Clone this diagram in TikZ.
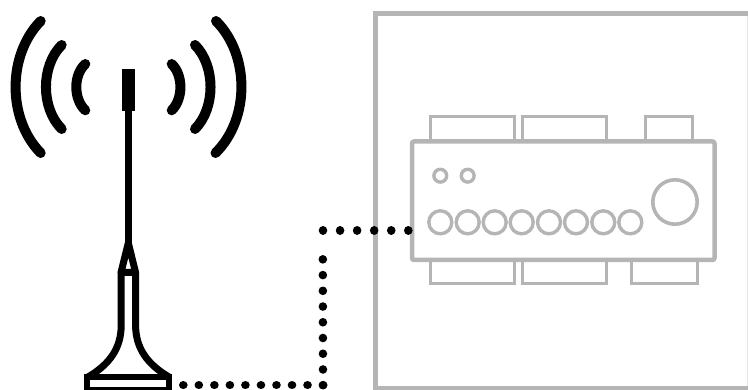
\documentclass[tikz,border=0pt]{standalone}
\tikzset{
  x=1pt,y=-1pt,
  frame/.style={draw=boxgray,line width=5pt},
  chassis/.style={draw=boxgray,line width=4.5pt,rounded corners=2pt,line join=round},
  tab/.style={draw=boxgray,line width=3.3pt},
  port/.style={draw=boxgray,line width=3.4pt},
  wave/.style={draw=black,line width=10pt,line cap=round},
  mast/.style={draw=black,line width=7pt,line join=round},
  wire/.style={draw=black,line width=8.6pt,line cap=round,dash pattern=on 0.01pt off #1},
}
\definecolor{boxgray}{HTML}{B5B5B5}
\begin{document}
\begin{tikzpicture}
\useasboundingbox (0,0) rectangle (748,390);
\clip (0,0) rectangle (748,390);
% cabinet
\draw[frame] (760,14) -- (375.5,14) -- (375.5,388.5) -- (760,388.5);
\draw[draw=boxgray!35,line width=1pt] (747.5,16.5) -- (747.5,386);
% tabs
\foreach \a/\b in {430.3/514.3,522.7/606.7,645.7/692.3}
  \draw[tab] (\a,141.5) -- (\a,116.7) -- (\b,116.7) -- (\b,141.5);
\foreach \a/\b in {430.3/514.3,522.7/606.7,631.7/697.7}
  \draw[tab] (\a,260) -- (\a,283.7) -- (\b,283.7) -- (\b,260);
% chassis
\draw[chassis] (412,141.5) rectangle (714.5,260);
\coordinate (devport) at (408.3,230.4);
% controls
\foreach \a in {440.3,467.7}
  \draw[port] (\a,175.7) circle[radius=6.4pt];
\foreach \a in {440.3,467.7,494.7,521.7,549,576,603.3,630.3}
  \draw[port] (\a,222.3) circle[radius=11.5pt];
\draw[port,line width=3.6pt] (675,202) circle[radius=22.2pt];
% waves
\draw[wave] (40.7,21) .. controls (7.2,55) and (7.2,119) .. (40.7,153);
\draw[wave] (61.7,45) .. controls (40.7,66) and (40.7,108) .. (61.7,129);
\draw[wave] (85.3,64) .. controls (73.3,75) and (73.3,99) .. (85.3,110.3);
\draw[wave] (216,21) .. controls (250,55) and (250,119) .. (215.5,153);
\draw[wave] (195,45) .. controls (215.7,66) and (215.7,108) .. (195,129);
\draw[wave] (171.7,64) .. controls (183.3,75) and (183.3,99) .. (171.7,110.3);
% antenna
\fill[black] (122,69) rectangle (134.7,111);
\draw[mast,line width=6.7pt] (128.3,105) -- (128.3,246);
\draw[mast] (128.3,243) -- (121,272.5) -- (135.6,272.5) -- cycle;
\draw[mast] (121.2,272) -- (121.2,325) .. controls (121.2,348) and (110,364) .. (88,377);
\draw[mast] (135.6,272) -- (135.6,325) .. controls (135.6,348) and (147,364) .. (169,377);
\draw[mast,line join=miter,line width=6.4pt] (87.2,377.2) rectangle (169,389.8);
\coordinate (antport) at (183.3,385.2);
% dotted cable
\coordinate (c1) at (323,385.2);
\coordinate (c2) at (322.8,243.7);
\coordinate (c3) at (323,230.4);
\draw[wire=15.52pt] (antport) -- ([xshift=0.1pt]c1);
\draw[wire=15.72pt] (c1) -- ([yshift=-0.1pt]c2);
\draw[wire=17.05pt] (c3) -- ([xshift=0.1pt]devport);
\end{tikzpicture}
\end{document}
